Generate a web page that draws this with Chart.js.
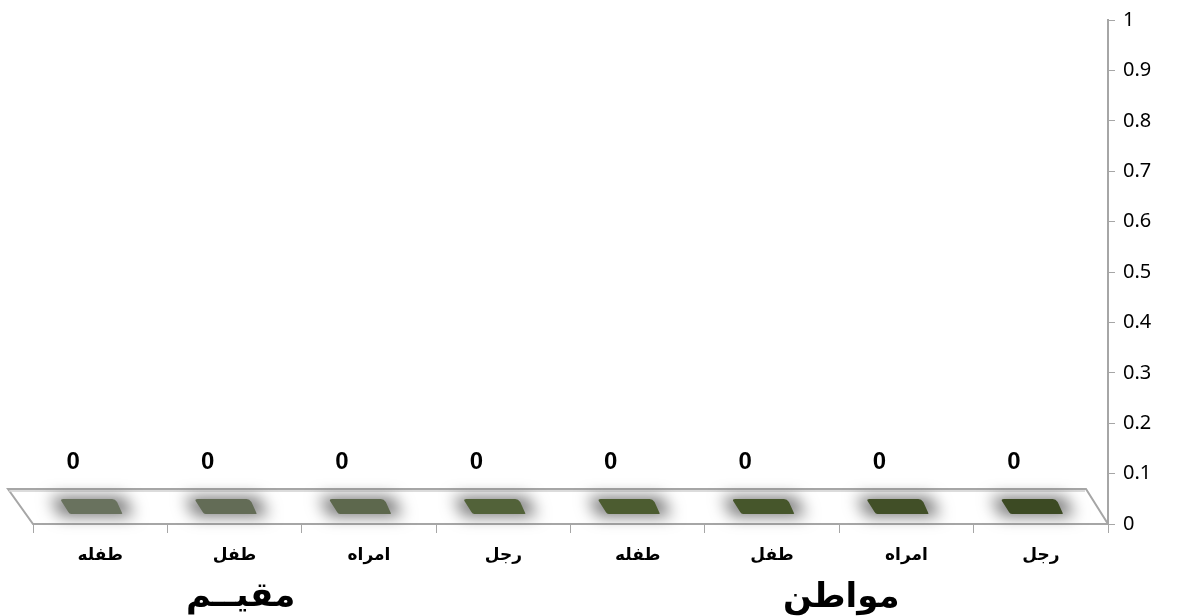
<!DOCTYPE html>
<html>
<head>
<meta charset="utf-8">
<script src="https://cdn.jsdelivr.net/npm/chart.js@4.4.1/dist/chart.umd.min.js"></script>
<style>
  html, body { margin: 0; padding: 0; background: #fff; }
  #wrap { width: 1178px; height: 616px; }
</style>
</head>
<body>
<div id="wrap"><canvas id="grafica" width="1178" height="616"></canvas></div>
<script>
const categorias = ['طفله', 'طفل', 'امراه', 'رجل', 'طفله', 'طفل', 'امراه', 'رجل'];
const valores = [0, 0, 0, 0, 0, 0, 0, 0];
const grupos = ['مقيــم', 'مواطن'];
const colores = ['#69725e', '#636c56', '#5d684d', '#526239', '#4c5c30', '#46562b', '#414f27', '#3c4a23'];

// piso 3D, barras aplanadas y etiquetas
const piso3d = {
  id: 'piso3d',
  beforeDatasetsDraw(chart) {
    const { ctx, chartArea } = chart;
    const y0 = chart.scales.y.getPixelForValue(0);
    const fondo = y0 - 35;
    ctx.save();
    ctx.beginPath();
    ctx.moveTo(chartArea.left - 25, fondo);
    ctx.lineTo(chartArea.right - 22, fondo);
    ctx.lineTo(chartArea.right, y0);
    ctx.lineTo(chartArea.left, y0);
    ctx.closePath();
    ctx.fillStyle = '#ffffff';
    ctx.fill();
    ctx.strokeStyle = '#a6a6a6';
    ctx.lineWidth = 2;
    ctx.stroke();
    ctx.beginPath();
    ctx.moveTo(chartArea.left - 24, fondo + 2);
    ctx.lineTo(chartArea.right - 23, fondo + 2);
    ctx.strokeStyle = '#d0d0d0';
    ctx.lineWidth = 1.5;
    ctx.stroke();
    ctx.restore();
  },
  afterDatasetsDraw(chart) {
    const { ctx } = chart;
    const meta = chart.getDatasetMeta(0);
    const y0 = chart.scales.y.getPixelForValue(0);
    const lejos = 5000;
    meta.data.forEach((bar, i) => {
      const w = bar.width;
      const cx = bar.x - 13;
      const top = y0 - 25;
      const bot = y0 - 10;

      // sombra difusa (forma fuera del lienzo, solo se ve la sombra)
      ctx.save();
      ctx.shadowColor = 'rgba(115,115,115,1)';
      ctx.shadowBlur = 16;
      ctx.shadowOffsetX = lejos;
      ctx.fillStyle = '#000';
      ctx.beginPath();
      ctx.moveTo(cx - w / 2 - 10 - lejos, top - 2);
      ctx.lineTo(cx + w / 2 + 10 - lejos, top - 2);
      ctx.lineTo(cx + w / 2 + 20 - lejos, bot + 2);
      ctx.lineTo(cx - w / 2 - lejos, bot + 2);
      ctx.closePath();
      ctx.fill();
      ctx.restore();

      ctx.save();
      ctx.beginPath();
      ctx.moveTo(cx - w / 2 + 3, top);
      ctx.lineTo(cx + w / 2 - 2, top);
      ctx.quadraticCurveTo(cx + w / 2 + 1, top, cx + w / 2 + 3, top + 3);
      ctx.lineTo(cx + w / 2 + 8, bot - 1);
      ctx.quadraticCurveTo(cx + w / 2 + 9, bot, cx + w / 2 + 6, bot);
      ctx.lineTo(cx - w / 2 + 11, bot);
      ctx.quadraticCurveTo(cx - w / 2 + 9, bot, cx - w / 2 + 8, bot - 2);
      ctx.lineTo(cx - w / 2 + 1, top + 2);
      ctx.quadraticCurveTo(cx - w / 2, top, cx - w / 2 + 3, top);
      ctx.closePath();
      ctx.fillStyle = colores[i];
      ctx.fill();
      ctx.restore();

      ctx.save();
      ctx.font = 'bold 24px "Liberation Sans", Arial';
      ctx.fillStyle = '#000';
      ctx.textAlign = 'center';
      ctx.textBaseline = 'middle';
      ctx.fillText(String(valores[i]), bar.x - 27, y0 - 62);
      ctx.restore();
    });

    // etiquetas de grupo
    const x = chart.scales.x;
    ctx.save();
    ctx.font = 'bold 34px "DejaVu Sans", "Noto Sans", sans-serif';
    ctx.fillStyle = '#000';
    ctx.textAlign = 'center';
    ctx.textBaseline = 'middle';
    ctx.fillText(grupos[0], x.getPixelForValue(1) + 6, 597);
    ctx.fillText(grupos[1], (x.getPixelForValue(5) + x.getPixelForValue(6)) / 2 + 2, 598);
    ctx.restore();
  }
};

const ctx = document.getElementById('grafica').getContext('2d');
const chart = new Chart(ctx, {
  type: 'bar',
  data: {
    labels: categorias,
    datasets: [{
      data: valores,
      backgroundColor: colores,
      categoryPercentage: 1,
      barPercentage: 0.4
    }]
  },
  options: {
    responsive: false,
    animation: false,
    layout: { padding: { left: 33, top: 18, right: 0, bottom: 0 } },
    plugins: { legend: { display: false }, tooltip: { enabled: false } },
    scales: {
      x: {
        offset: true,
        grid: {
          offset: true,
          drawOnChartArea: false,
          color: '#a6a6a6',
          tickLength: 9
        },
        border: { display: true, color: '#a6a6a6' },
        ticks: {
          color: '#000',
          padding: 12,
          maxRotation: 0,
          font: { family: '"DejaVu Sans", sans-serif', size: 17, weight: 'bold' }
        },
        afterFit(scale) { scale.height = 92; }
      },
      y: {
        position: 'right',
        min: 0,
        max: 1,
        ticks: {
          stepSize: 0.1,
          color: '#000',
          padding: 8,
          font: { family: '"Noto Sans", sans-serif', size: 20 },
          callback: (v) => String(Number(v.toFixed(1)))
        },
        grid: {
          drawOnChartArea: false,
          color: '#a6a6a6',
          tickLength: 7
        },
        border: { display: true, color: '#a6a6a6', width: 2 },
        afterFit(scale) { scale.width = 70; }
      }
    }
  },
  plugins: [piso3d]
});
</script>
</body>
</html>
